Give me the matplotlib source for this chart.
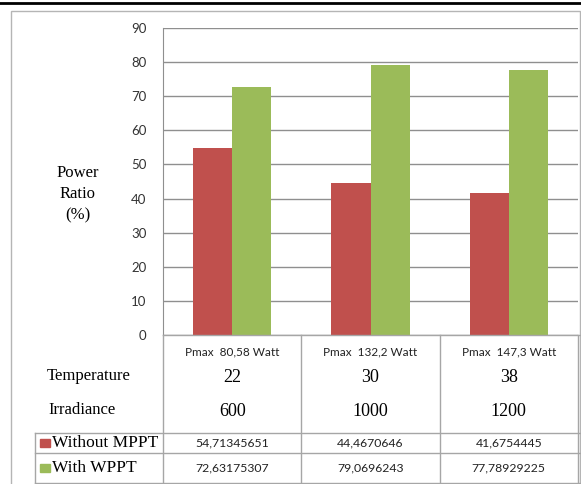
import numpy as np
import matplotlib
matplotlib.use("Agg")
from matplotlib import pyplot as plt
from matplotlib import transforms
from matplotlib.lines import Line2D
from matplotlib.patches import Rectangle

# data
pmax_labels = ["Pmax  80,58 Watt", "Pmax  132,2 Watt", "Pmax  147,3 Watt"]
temperature = ["22", "30", "38"]
irradiance = ["600", "1000", "1200"]
without_mppt = [54.71345651, 44.4670646, 41.6754445]
with_mppt = [72.63175307, 79.0696243, 77.78929225]
without_txt = ["54,71345651", "44,4670646", "41,6754445"]
with_txt = ["72,63175307", "79,0696243", "77,78929225"]
series_names = ["Without MPPT", "With WPPT"]
yticks = np.arange(0, 100, 10)

RED = "#C0504D"
GREEN = "#9BBB59"
GRID = "#8f8f8f"
LINE = "#a6a6a6"
SANS = "Lato"
SERIF = "Liberation Serif"

W, H = 581, 484
fig = plt.figure(figsize=(W / 100, H / 100), dpi=100)

def fx(px):
    return px / W

def fy(py):
    return 1 - py / H

ax = fig.add_axes([fx(163), fy(335), fx(578) - fx(163), fy(28) - fy(335)])
x = np.arange(len(pmax_labels))
bw = 0.283
ax.bar(x - bw / 2, without_mppt, bw, color=RED, zorder=3)
ax.bar(x + bw / 2, with_mppt, bw, color=GREEN, zorder=3)
ax.set_xlim(-0.5, 2.5)
ax.set_ylim(0, 90)
ax.set_yticks(yticks)
ax.set_yticklabels([str(v) for v in yticks], fontsize=9.5, family=SANS, color="#333333")
ax.tick_params(axis="y", length=0, pad=12)
ax.set_xticks([])
ax.grid(axis="y", color=GRID, linewidth=1, zorder=0)
for s in ["top", "right", "bottom"]:
    ax.spines[s].set_visible(False)
ax.spines["left"].set_color(GRID)

fig.text(fx(78), fy(194), "Power\nRatio\n(%)", ha="center", va="center",
         family=SERIF, fontsize=12, linespacing=1.45)

# table under the chart
tr = transforms.blended_transform_factory(ax.transData, fig.transFigure)

def hline(y, x0=35, x1=580):
    fig.add_artist(Line2D([fx(x0), fx(x1)], [fy(y), fy(y)], color=LINE, lw=1))

def vline(xd, y0, y1):
    fig.add_artist(Line2D([xd, xd], [fy(y0), fy(y1)], color=LINE, lw=1, transform=tr))

hline(335, 163, 580)
hline(433)
hline(453)
hline(483)
for b in [-0.5, 0.5, 1.5, 2.5]:
    vline(b, 335, 483)
fig.add_artist(Line2D([fx(35), fx(35)], [fy(433), fy(483)], color=LINE, lw=1))

for i in range(len(pmax_labels)):
    fig.text(i, fy(352), pmax_labels[i], transform=tr, ha="center", va="center",
             family=SANS, fontsize=8.5, color="#222222")
    fig.text(i, fy(378), temperature[i], transform=tr, ha="center", va="center",
             family=SERIF, fontsize=13)
    fig.text(i, fy(411), irradiance[i], transform=tr, ha="center", va="center",
             family=SERIF, fontsize=13)
    fig.text(i, fy(443), without_txt[i], transform=tr, ha="center", va="center",
             family=SANS, fontsize=8.8, color="#222222")
    fig.text(i, fy(468), with_txt[i], transform=tr, ha="center", va="center",
             family=SANS, fontsize=8.8, color="#222222")

fig.text(fx(47), fy(376), "Temperature", ha="left", va="center", family=SERIF, fontsize=12)
fig.text(fx(48), fy(410), "Irradiance", ha="left", va="center", family=SERIF, fontsize=12)

for name, col, y in [(series_names[0], RED, 443), (series_names[1], GREEN, 468)]:
    fig.add_artist(Rectangle((fx(40), fy(y + 4)), fx(10), fy(y - 4) - fy(y + 4), color=col))
    fig.text(fx(52), fy(y), name, ha="left", va="center", family=SERIF, fontsize=12.5)

# outer frame and black rule at the top
fig.add_artist(Rectangle((fx(11), fy(490)), fx(569), fy(11) - fy(490), fill=False,
                         edgecolor="#b5b5b5", lw=1))
fig.add_artist(Line2D([0, 1], [fy(3), fy(3)], color="black", lw=2))

fig.savefig("out.png", dpi=100)
